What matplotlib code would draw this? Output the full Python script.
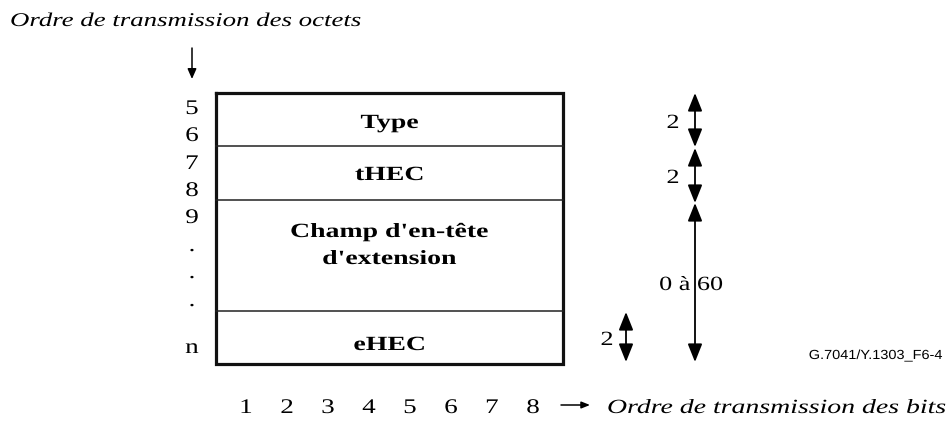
import matplotlib
matplotlib.use('Agg')
import matplotlib.pyplot as plt
import matplotlib.patheffects as pe
from matplotlib.transforms import Affine2D

# Contenu du schéma
champs = ["Type", "tHEC", "Champ d'en-tête", "d'extension", "eHEC"]
octets = ["5", "6", "7", "8", "9", ".", ".", ".", "n"]
bits = ["1", "2", "3", "4", "5", "6", "7", "8"]
longueurs = ["2", "2", "0 à 60"]
longueur_ehec = "2"

titre_octets = "Ordre de transmission des octets"
titre_bits = "Ordre de transmission des bits"
reference = "G.7041/Y.1303_F6-4"

# Mise en page (coordonnées pixels, y vers le bas)
box_left, box_right = 216, 563
limites = [93, 146, 200, 311, 364]
y_champs = [128, 180, 237, 264, 350]
y_octets = [114, 141, 169, 196, 223, 251, 278, 306, 353]
x_bits = [246, 287, 328, 369, 410, 451, 492, 533]
segments = [(93, 147), (148, 203), (203, 362)]
y_longueurs = [128, 183, 290]

serif = 'Liberation Serif'
SX = 1.38  # le texte original est étiré horizontalement


class Etirer(pe.AbstractPathEffect):
    """Etire le texte horizontalement autour de son ancrage."""

    def __init__(self, sx, ancre='center'):
        super().__init__()
        self.sx = sx
        self.ancre = ancre

    def draw_path(self, renderer, gc, tpath, affine, rgbFace=None):
        ext = tpath.get_extents()
        if self.ancre == 'left':
            cx = 0
        elif self.ancre == 'right':
            cx = ext.x1
        else:
            cx = (ext.x0 + ext.x1) / 2
        t = Affine2D().translate(-cx, 0).scale(self.sx, 1).translate(cx, 0) + affine
        renderer.draw_path(gc, tpath, t, rgbFace)


def texte(x, y, s, ha='center', sx=SX, **kw):
    kw.setdefault('family', serif)
    kw.setdefault('fontsize', 14)
    return ax.text(x, y, s, ha=ha, va='baseline',
                   path_effects=[Etirer(sx, ha)], **kw)


fig = plt.figure(figsize=(9.46, 4.21), dpi=100)
ax = fig.add_axes([0, 0, 1, 1])
ax.set_xlim(0, 946)
ax.set_ylim(421, 0)
ax.axis('off')

# Cadre
ax.plot([box_left, box_right, box_right, box_left, box_left],
        [limites[0], limites[0], limites[-1], limites[-1], limites[0]],
        color='#111111', lw=2.3, solid_joinstyle='miter')
for y in limites[1:-1]:
    ax.plot([box_left, box_right], [y, y], color='#222222', lw=1.1)

for txt, y in zip(champs, y_champs):
    texte((box_left + box_right) / 2, y, txt, fontsize=14.5, fontweight='bold')

for txt, y in zip(octets, y_octets):
    texte(192, y, txt, fontsize=15, sx=1.3)

for txt, x in zip(bits, x_bits):
    texte(x, 413, txt, fontsize=15, sx=1.3)

texte(10, 26, titre_octets, ha='left', style='italic', fontsize=14)
ax.annotate('', xy=(192, 79), xytext=(192, 48),
            arrowprops=dict(arrowstyle='-|>,head_length=0.5,head_width=0.22',
                            color='black', lw=1.1, mutation_scale=12,
                            shrinkA=0, shrinkB=0))

ax.annotate('', xy=(590, 405), xytext=(561, 405),
            arrowprops=dict(arrowstyle='-|>,head_length=0.5,head_width=0.2',
                            color='black', lw=1.1, mutation_scale=10,
                            shrinkA=0, shrinkB=0))
texte(607, 413, titre_bits, ha='left', style='italic', fontsize=14.5)

texte(943, 359, reference, ha='right', sx=1.1, family='Liberation Sans',
      fontsize=9.5)

# Flèches de longueur
x_fl = 695
fleche = dict(arrowstyle='<|-|>,head_length=0.55,head_width=0.22',
              color='black', lw=1.3, mutation_scale=20, shrinkA=0, shrinkB=0)
for (y0, y1), txt, y in zip(segments, longueurs, y_longueurs):
    ax.annotate('', xy=(x_fl, y0), xytext=(x_fl, y1), arrowprops=fleche)
    if txt == "0 à 60":
        texte(691, y, txt, fontsize=14.5, sx=1.3)
    else:
        texte(673, y, txt, fontsize=14.5, sx=1.3)

ax.annotate('', xy=(626, 312), xytext=(626, 362), arrowprops=fleche)
texte(607, 345, longueur_ehec, fontsize=14.5, sx=1.3)

fig.savefig('out.png', dpi=100)
